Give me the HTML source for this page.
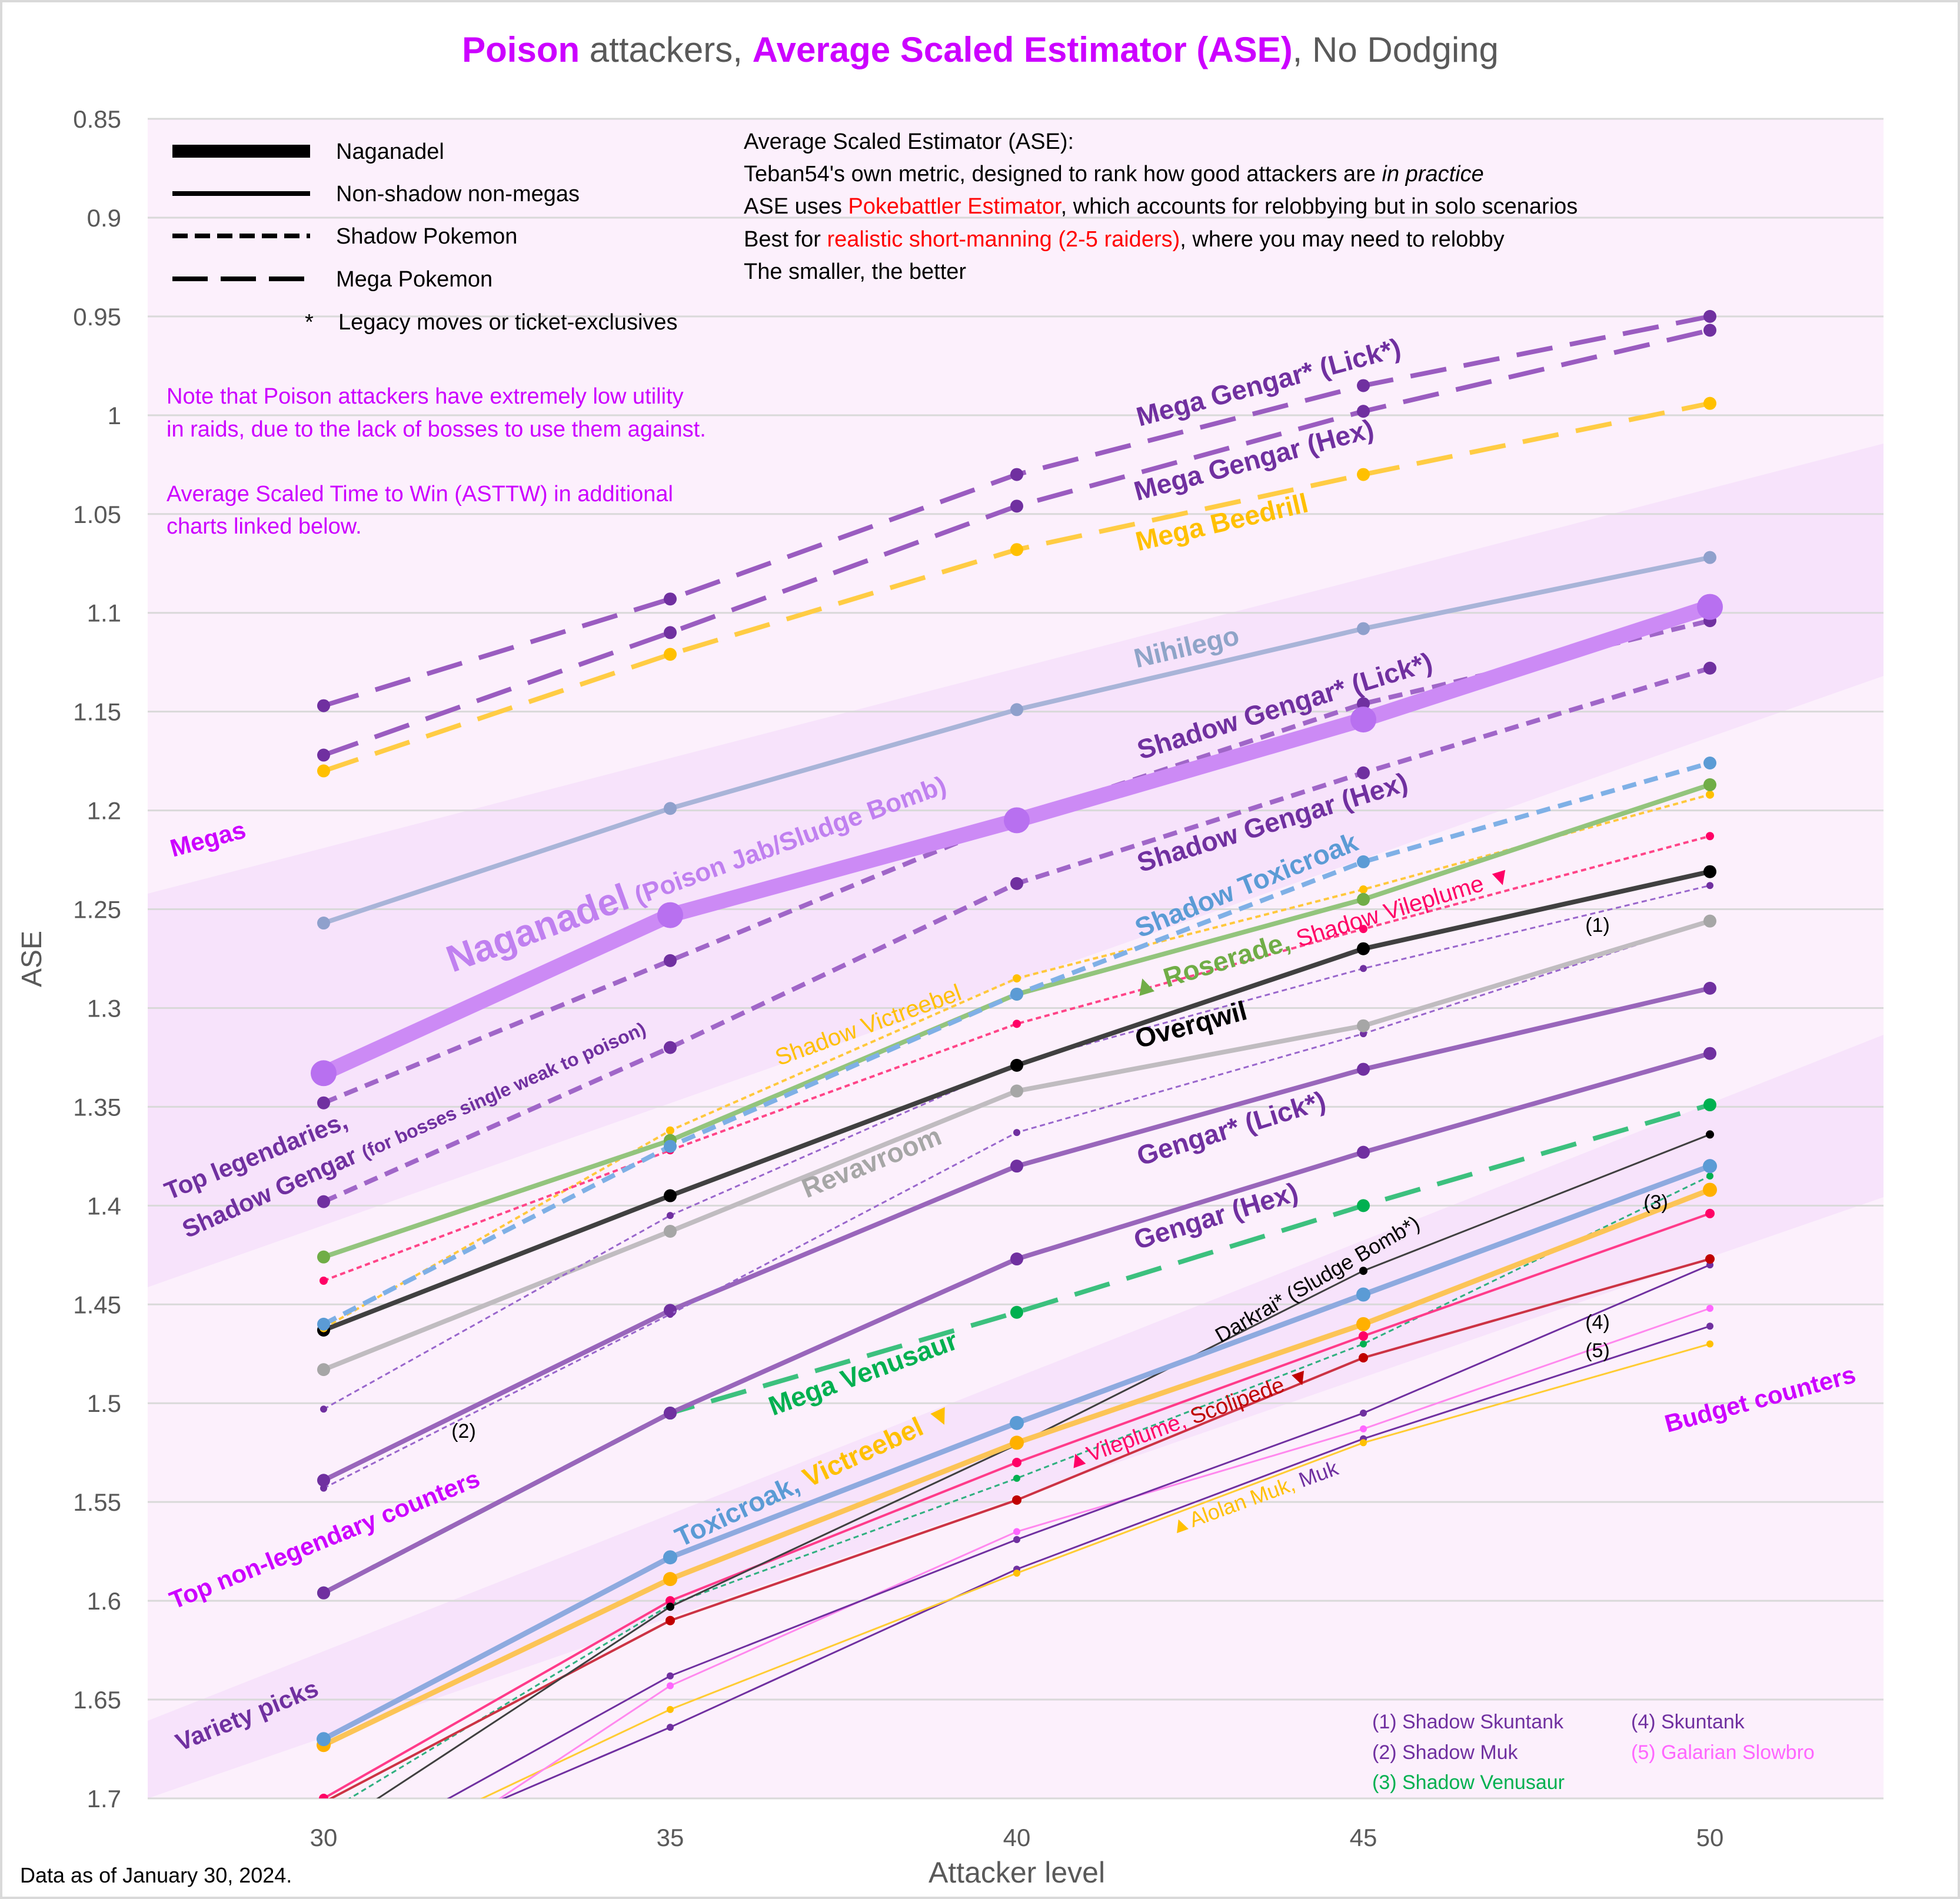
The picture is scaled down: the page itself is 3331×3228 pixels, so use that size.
<!DOCTYPE html>
<html><head><meta charset="utf-8">
<style>
html,body{margin:0;padding:0;background:#fff;}
svg{display:block;font-family:"Liberation Sans",sans-serif;}
</style></head>
<body>
<svg id="chart" width="3331" height="3228" viewBox="0 0 3331 3228" xmlns="http://www.w3.org/2000/svg">
<rect x="2" y="2" width="3327" height="3224" fill="#fff" stroke="#d9d9d9" stroke-width="4"/>
<defs><clipPath id="pc"><rect x="251" y="202" width="2950" height="2855"/></clipPath></defs>
<g id="plotbg"></g>
<g id="grid"></g>
<g id="series" clip-path="url(#pc)"></g>
<g id="axes"></g>

<text x="1666" y="105" text-anchor="middle" font-size="60" fill="#595959"><tspan fill="#cc00ff" font-weight="bold">Poison</tspan> attackers, <tspan fill="#cc00ff" font-weight="bold">Average Scaled Estimator (ASE)</tspan>, No Dodging</text>
<text transform="translate(70,1630) rotate(-90)" text-anchor="middle" font-size="48" fill="#595959">ASE</text>
<text x="1728" y="3200" text-anchor="middle" font-size="50" fill="#595959">Attacker level</text>
<text x="34" y="3200" font-size="36" fill="#000">Data as of January 30, 2024.</text>

<g font-size="38" fill="#000">
<line x1="293" y1="257" x2="527" y2="257" stroke="#000" stroke-width="22"/>
<text x="571" y="270">Naganadel</text>
<line x1="293" y1="329" x2="527" y2="329" stroke="#000" stroke-width="8"/>
<text x="571" y="342">Non-shadow non-megas</text>
<line x1="293" y1="401" x2="527" y2="401" stroke="#000" stroke-width="8" stroke-dasharray="26 12"/>
<text x="571" y="414">Shadow Pokemon</text>
<line x1="293" y1="474" x2="527" y2="474" stroke="#000" stroke-width="8" stroke-dasharray="60 22"/>
<text x="571" y="487">Mega Pokemon</text>
<text x="518" y="560">*</text>
<text x="575" y="560">Legacy moves or ticket-exclusives</text>
</g>

<g font-size="38" fill="#000">
<text x="1264" y="253">Average Scaled Estimator (ASE):</text>
<text x="1264" y="308">Teban54's own metric, designed to rank how good attackers are <tspan font-style="italic">in practice</tspan></text>
<text x="1264" y="363">ASE uses <tspan fill="#ff0000">Pokebattler Estimator</tspan>, which accounts for relobbying but in solo scenarios</text>
<text x="1264" y="419">Best for <tspan fill="#ff0000">realistic short-manning (2-5 raiders)</tspan>, where you may need to relobby</text>
<text x="1264" y="474">The smaller, the better</text>
</g>
<g font-size="38" fill="#cc00ff">
<text x="283" y="686">Note that Poison attackers have extremely low utility</text>
<text x="283" y="742">in raids, due to the lack of bosses to use them against.</text>
<text x="283" y="852">Average Scaled Time to Win (ASTTW) in additional</text>
<text x="283" y="907">charts linked below.</text>
</g>
<g font-size="34">
<text x="2332" y="2938" fill="#7030a0">(1) Shadow Skuntank</text>
<text x="2332" y="2990" fill="#7030a0">(2) Shadow Muk</text>
<text x="2332" y="3041" fill="#00b050">(3) Shadow Venusaur</text>
<text x="2772" y="2938" fill="#7030a0">(4) Skuntank</text>
<text x="2772" y="2990" fill="#ff66ff">(5) Galarian Slowbro</text>
</g>
<g id="labels" font-weight="bold" font-size="46" text-anchor="middle"></g>
</svg>
<script>
const levels = [30, 35, 40, 45, 50];
const yTicks = [0.85,0.9,0.95,1,1.05,1.1,1.15,1.2,1.25,1.3,1.35,1.4,1.45,1.5,1.55,1.6,1.65,1.7];
const yTickLabels = ["0.85","0.9","0.95","1","1.05","1.1","1.15","1.2","1.25","1.3","1.35","1.4","1.45","1.5","1.55","1.6","1.65","1.7"];
const megaGengarLick = [1.147, 1.093, 1.030, 0.985, 0.950];
const megaGengarHex = [1.172, 1.110, 1.046, 0.998, 0.957];
const megaBeedrill = [1.180, 1.121, 1.068, 1.030, 0.994];
const nihilego = [1.257, 1.199, 1.149, 1.108, 1.072];
const naganadel = [1.333, 1.253, 1.205, 1.154, 1.097];
const shadowGengarLick = [1.348, 1.276, 1.204, 1.146, 1.104];
const shadowGengarHex = [1.398, 1.320, 1.237, 1.181, 1.128];
const shadowToxicroak = [1.460, 1.370, 1.293, 1.226, 1.176];
const roserade = [1.426, 1.367, 1.293, 1.245, 1.187];
const shadowVileplume = [1.438, 1.372, 1.308, 1.260, 1.213];
const shadowVictreebel = [1.462, 1.362, 1.285, 1.240, 1.192];
const overqwil = [1.463, 1.395, 1.329, 1.270, 1.231];
const shadowSkuntank = [1.503, 1.405, 1.328, 1.280, 1.238];
const revavroom = [1.483, 1.413, 1.342, 1.309, 1.256];
const shadowMuk = [1.543, 1.455, 1.363, 1.313, 1.256];
const gengarLick = [1.539, 1.453, 1.380, 1.331, 1.290];
const gengarHex = [1.596, 1.505, 1.427, 1.373, 1.323];
const megaVenusaur = [1.596, 1.505, 1.454, 1.400, 1.349];
const toxicroak = [1.670, 1.578, 1.510, 1.445, 1.380];
const victreebel = [1.673, 1.589, 1.520, 1.460, 1.392];
const darkrai = [1.718, 1.603, 1.521, 1.433, 1.364];
const vileplume = [1.700, 1.600, 1.530, 1.466, 1.404];
const scolipede = [1.702, 1.610, 1.549, 1.477, 1.427];
const shadowVenusaur = [1.708, 1.602, 1.538, 1.470, 1.385];
const skuntank = [1.735, 1.638, 1.569, 1.505, 1.430];
const galarianSlowbro = [1.759, 1.643, 1.565, 1.513, 1.452];
const alolanMuk = [1.738, 1.655, 1.586, 1.520, 1.470];
const muk = [1.739, 1.664, 1.584, 1.518, 1.461];

const NS='http://www.w3.org/2000/svg';
const PL=251, PR=3201, PT=202, PB=3057;
function xs(l){return 550+(l-30)*(2906-550)/20;}
function ys(v){return PT+(v-0.85)/0.85*(PB-PT);}
function mk(tag,attrs,parent){const e=document.createElementNS(NS,tag);for(const k in attrs)e.setAttribute(k,attrs[k]);parent.appendChild(e);return e;}

const bg=document.getElementById('plotbg');
const r=mk('rect',{x:PL,y:PT,width:PR-PL,height:PB-PT,fill:'#fcf0fc'},bg);


const bandA=mk('polygon',{points:PL+',1519 '+PR+',754 '+PR+',1149 '+PL+',2188',fill:'#f7e3fb'},bg);


const bandB=mk('polygon',{points:PL+',2925 '+PR+',1759 '+PR+',2035 '+PL+',3057',fill:'#f7e3fb'},bg);



const grid=document.getElementById('grid');
const axes=document.getElementById('axes');
yTicks.forEach((t,i)=>{
  const g=mk('line',{x1:PL,x2:PR,y1:ys(t),y2:ys(t),stroke:'#d9d9d9','stroke-width':3},grid);
  
  
  const tl=mk('text',{x:206,y:ys(t)+15,'text-anchor':'end','font-size':42,fill:'#595959'},axes);
  
  
  tl.textContent=yTickLabels[i];
});
levels.forEach(l=>{
  const tl=mk('text',{x:xs(l),y:3138,'text-anchor':'middle','font-size':42,fill:'#595959'},axes);
  
  
  tl.textContent=String(l);
});

const S=document.getElementById('series');
function series(name,vals,color,mcolor,w,dash,mr){
  const g=mk('g',{},S);
  
  
  const pts=vals.map((v,i)=>xs(levels[i])+','+ys(v)).join(' ');
  const pl=mk('polyline',{points:pts,fill:'none',stroke:color,'stroke-width':w,'stroke-linejoin':'round'},g);
  if(dash)pl.setAttribute('stroke-dasharray',dash);
  
  
  vals.forEach((v,i)=>{
    const c=mk('circle',{cx:xs(levels[i]),cy:ys(v),r:mr,fill:mcolor},g);
    
    
  });
}
const MD='62 30', SD='24 14', TD='9 6';
series('muk',muk,'#7030a0','#7030a0',3,null,6);
series('alolan-muk',alolanMuk,'#ffcc33','#ffc000',3,null,6);
series('galarian-slowbro',galarianSlowbro,'#ff88ee','#ff66ff',3,null,6);
series('skuntank',skuntank,'#7030a0','#7030a0',3,null,6);
series('shadow-venusaur',shadowVenusaur,'#30b080','#00b050',3,TD,6);
series('scolipede',scolipede,'#cc3344','#c00000',4,null,8);
series('vileplume',vileplume,'#ff3b8a','#ff0066',4,null,8);
series('darkrai',darkrai,'#404040','#000',3,null,7);
series('victreebel',victreebel,'#fcc456','#ffb000',9,null,12);
series('toxicroak',toxicroak,'#8eaadf','#5b9bd5',9,null,12);
series('mega-venusaur',megaVenusaur,'#3cc07e','#00b050',8,MD,11);
series('gengar-hex',gengarHex,'#9966bb','#7030a0',8,null,11);
series('gengar-lick',gengarLick,'#9966bb','#7030a0',8,null,11);
series('shadow-muk',shadowMuk,'#9966cc','#7030a0',3,TD,6);
series('revavroom',revavroom,'#c0bcc0','#a6a6a6',8,null,11);
series('shadow-skuntank',shadowSkuntank,'#9966cc','#7030a0',3,TD,6);
series('overqwil',overqwil,'#404040','#000',8,null,11);
series('shadow-victreebel',shadowVictreebel,'#ffc83c','#ffc000',4,TD,7);
series('shadow-vileplume',shadowVileplume,'#ff4488','#ff0066',4,TD,7);
series('roserade',roserade,'#93c47d','#70ad47',8,null,11);
series('shadow-toxicroak',shadowToxicroak,'#7fb0e6','#5b9bd5',8,SD,11);
series('shadow-gengar-hex',shadowGengarHex,'#a066c8','#7030a0',8,SD,11);
series('shadow-gengar-lick',shadowGengarLick,'#a066c8','#7030a0',8,SD,11);
series('naganadel',naganadel,'#cc8af5','#b870f0',26,null,22);
series('nihilego',nihilego,'#a9b4d8','#8fa0cc',8,null,11);
series('mega-beedrill',megaBeedrill,'#ffcc44','#ffc000',8,MD,11);
series('mega-gengar-hex',megaGengarHex,'#9a5cc0','#7030a0',8,MD,11);
series('mega-gengar-lick',megaGengarLick,'#9a5cc0','#7030a0',8,MD,11);

const L=document.getElementById('labels');
function label(name,x,y,rot,html,color,size,weight,anchor){
  const t=mk('text',{transform:'translate('+x+','+y+') rotate('+rot+')',fill:color},L);
  if(size)t.setAttribute('font-size',size);
  if(weight)t.setAttribute('font-weight',weight);
  if(anchor)t.setAttribute('text-anchor',anchor);
  
  
  t.innerHTML=html;
}
const P='#7030a0', MG='#cc00ff';
label('label-mega-gengar-lick',2160,665,-15,'Mega Gengar* (Lick*)',P);
label('label-mega-gengar-hex',2135,797,-15,'Mega Gengar (Hex)',P);
label('label-mega-beedrill',2080,903,-13,'Mega Beedrill','#ffc000');
label('label-nihilego',2020,1115,-13,'Nihilego','#8fa4c8');
label('label-shadow-gengar-lick',2188,1215,-17,'Shadow Gengar* (Lick*)',P);
label('label-naganadel',1190,1500,-20,'<tspan font-size="64">Naganadel</tspan> <tspan font-size="44">(Poison Jab/Sludge Bomb)</tspan>','#c080f0');
label('label-shadow-gengar-hex',2167,1413,-17,'Shadow Gengar (Hex)',P);
label('label-shadow-toxicroak',2124,1519,-22,'Shadow Toxicroak','#5b9bd5');
label('label-roserade-shadow-vileplume',2250,1597,-17,'<tspan fill="#70ad47">▲ Roserade,</tspan> <tspan fill="#ff0066" font-weight="normal" font-size="40">Shadow Vileplume ▼</tspan>','#70ad47');
label('label-shadow-victreebel',1480,1755,-20,'Shadow Victreebel','#ffc000',40,'normal');
label('label-overqwil',2028,1757,-15,'Overqwil','#000');
label('label-top-legendaries',287,2040,-22,'Top legendaries,',P,42,'bold','start');
label('label-shadow-gengar-weak',318,2105,-24,'Shadow Gengar <tspan font-size="32">(for bosses single weak to poison)</tspan>',P,42,'bold','start');
label('label-revavroom',1487,1990,-22,'Revavroom','#a6a6a6');
label('label-gengar-lick',2097,1933,-17,'Gengar* (Lick*)',P);
label('label-gengar-hex',2071,2082,-17,'Gengar (Hex)',P);
label('label-darkrai',2245,2185,-30,'Darkrai* (Sludge Bomb*)','#000',36,'normal');
label('label-mega-venusaur',1472,2349,-20,'Mega Venusaur','#00b050');
label('label-toxicroak-victreebel',1391,2521,-25,'<tspan fill="#5b9bd5">Toxicroak,</tspan> <tspan fill="#ffc000">Victreebel ▼</tspan>','#5b9bd5');
label('label-vileplume-scolipede',2024,2423,-20,'<tspan fill="#ff0066">▲Vileplume,</tspan> <tspan fill="#c00000">Scolipede ▼</tspan>','#ff0066',38,'normal');
label('label-alolan-muk-muk',2135,2557,-20,'<tspan fill="#ffc000">▲Alolan Muk,</tspan> <tspan fill="#7030a0">Muk</tspan>','#ffc000',36,'normal');
label('label-megas',357,1440,-15,'Megas',MG,42);
label('label-top-non-legendary',557,2630,-22,'Top non-legendary counters',MG,42);
label('label-variety-picks',425,2929,-22,'Variety picks',P,42);
label('label-budget-counters',2995,2392,-15,'Budget counters',MG,42);
label('marker-1',2715,1584,0,'(1)','#000',34,'normal');
label('marker-2',788,2444,0,'(2)','#000',34,'normal');
label('marker-3',2814,2055,0,'(3)','#000',34,'normal');
label('marker-4',2715,2259,0,'(4)','#000',34,'normal');
label('marker-5',2715,2307,0,'(5)','#000',34,'normal');
</script>
</body></html>
